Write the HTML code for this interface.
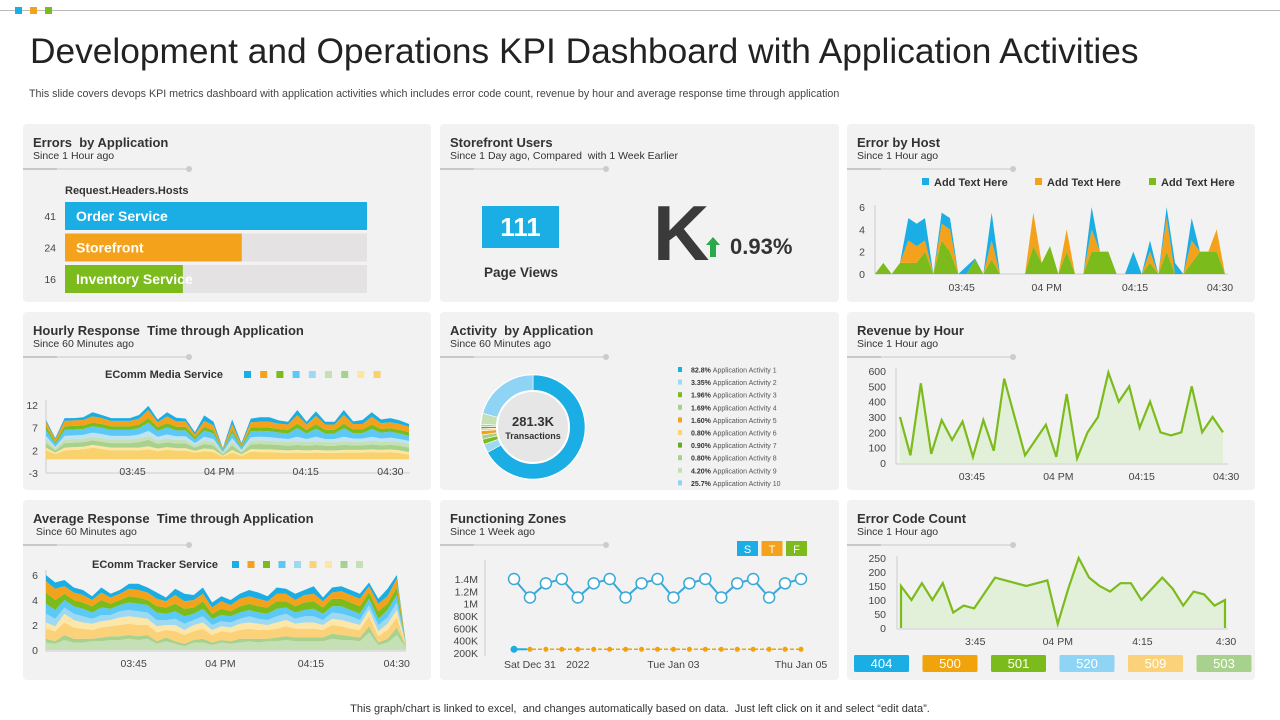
<!DOCTYPE html>
<html><head><meta charset="utf-8">
<style>
*{margin:0;padding:0;box-sizing:border-box}
body{width:1280px;height:720px;background:#fff;font-family:"Liberation Sans",sans-serif;position:relative;overflow:hidden;color:#333}
.abs{position:absolute}
.panel{position:absolute;background:#f2f2f2;border-radius:4px}
.pt{position:absolute;left:10px;top:11px;font-size:13px;font-weight:bold;color:#333;white-space:nowrap}
.ps{position:absolute;left:10px;top:26px;font-size:10.5px;color:#333;white-space:nowrap}
.pl{position:absolute;left:0;top:44px;width:166px;height:2px;background:#ddd}
.pl:before{content:"";position:absolute;left:0;top:0;width:34px;height:2px;background:#c8c8c8}
.pl:after{content:"";position:absolute;right:-3px;top:-2px;width:6px;height:6px;border-radius:3px;background:#ccc}
svg text{font-family:"Liberation Sans",sans-serif}
</style></head><body>
<div class="abs" style="left:0;top:10px;width:1280px;height:1px;background:#bbb"></div>
<div class="abs" style="left:15px;top:7px;width:7px;height:7px;background:#1aaee5"></div>
<div class="abs" style="left:30px;top:7px;width:7px;height:7px;background:#f4a21c"></div>
<div class="abs" style="left:45px;top:7px;width:7px;height:7px;background:#7cbb1c"></div>
<div class="abs" style="left:30px;top:32px;font-size:35.3px;color:#222;white-space:nowrap">Development and Operations KPI Dashboard with Application Activities</div>
<div class="abs" style="left:29px;top:88px;font-size:10.7px;color:#444;white-space:nowrap">This slide covers devops KPI metrics dashboard with application activities which includes error code count, revenue by hour and average response time through application</div>

<div class="panel" style="left:23px;top:124px;width:408px;height:178px"><div class="pt">Errors&nbsp; by Application</div><div class="ps">Since 1 Hour ago</div><div class="pl"></div></div>
<div class="panel" style="left:440px;top:124px;width:399px;height:178px"><div class="pt">Storefront Users</div><div class="ps">Since 1 Day ago, Compared&nbsp; with 1 Week Earlier</div><div class="pl"></div></div>
<div class="panel" style="left:847px;top:124px;width:408px;height:178px"><div class="pt">Error by Host</div><div class="ps">Since 1 Hour ago</div><div class="pl"></div></div>
<div class="panel" style="left:23px;top:312px;width:408px;height:178px"><div class="pt">Hourly Response&nbsp; Time through Application</div><div class="ps">Since 60 Minutes ago</div><div class="pl"></div></div>
<div class="panel" style="left:440px;top:312px;width:399px;height:178px"><div class="pt">Activity&nbsp; by Application</div><div class="ps">Since 60 Minutes ago</div><div class="pl"></div></div>
<div class="panel" style="left:847px;top:312px;width:408px;height:178px"><div class="pt">Revenue by Hour</div><div class="ps">Since 1 Hour ago</div><div class="pl"></div></div>
<div class="panel" style="left:23px;top:500px;width:408px;height:180px"><div class="pt">Average Response&nbsp; Time through Application</div><div class="ps">&nbsp;Since 60 Minutes ago</div><div class="pl"></div></div>
<div class="panel" style="left:440px;top:500px;width:399px;height:180px"><div class="pt">Functioning Zones</div><div class="ps">Since 1 Week ago</div><div class="pl"></div></div>
<div class="panel" style="left:847px;top:500px;width:408px;height:180px"><div class="pt">Error Code Count</div><div class="ps">Since 1 Hour ago</div><div class="pl"></div></div>

<div class="abs" style="left:482px;top:206px;width:77px;height:42px;background:#1aaee5;color:#fff;font-size:26px;font-weight:bold;text-align:center;line-height:42px">111</div>
<div class="abs" style="left:470px;top:265px;width:102px;text-align:center;font-size:13.5px;font-weight:bold;color:#333">Page Views</div>
<div class="abs" style="left:653px;top:188px;font-size:78px;font-weight:bold;color:#3a3a3a;line-height:90px">K</div>
<div class="abs" style="left:730px;top:234px;font-size:22px;font-weight:bold;color:#333">0.93%</div>

<div class="abs" style="left:0;top:703px;width:1280px;text-align:center;font-size:11px;color:#333">This graph/chart is linked to excel,&nbsp; and changes automatically based on data.&nbsp; Just left click on it and select “edit data”.</div>

<svg id="chart" width="1280" height="720" style="position:absolute;left:0;top:0" xmlns="http://www.w3.org/2000/svg"></svg>

<script>
// ---- Errors by application ----
const errCats=["Order Service","Storefront","Inventory Service"];
const errVals=[41,24,16];
const errColors=["#1aaee5","#f4a21c","#7cbb1c"];
// ---- Error by host (stacked) ----
const hostGreen=[0,1,0,1,1,1,2,0,3,2, 0,0,1.3,0,1.3,0,0,0,0,2.5, 1,2.5,0,2,0,0,2,2,2,0, 0,0,0,1,0,2,0,0,1,2, 2,2,0];
const hostOrange=[0,0,0,0,2,1.5,1,0,1.5,2, 0,0,0,0,1.7,0,0,0,0,3, 0,0,0,2,0,0,2,0,0,0, 0,0,0,1,0,3,0,0,2,0, 0,2,0];
const hostBlue=[0,0,0,0,2,2,2,0,1,1, 0,0.7,0.1,0,2.5,0,0,0,0,0, 0,0,0,0,0,0,2,0,0,0, 0,2,0,1,0,1,1,0,2,0, 0,0,0];
const hostYTicks=[0,2,4,6];
const hostXLabels=["03:45","04 PM","04:15","04:30"];
const hostXTickIdx=[10.4,20.6,31.2,41.4];
const hostLegend=["Add Text Here","Add Text Here","Add Text Here"];
// ---- Hourly response (stacked 9) ----
const hr1=[2,1.2,2,2.1,2.2,2.6,2.3,2,2,2, 2,2.2,1.8,2.1,1.9,1.9,1.5,1.8,1.6,0.6, 1.5,0.8,1.7,1.6,1.6,1.5,1.4,1.5,1.4,1.5, 1.4,1.4,1.5,1.5,1.5,1.6,1.5,1.6,1.4,1.0];
const hr2=[0.6,0.3,0.6,0.6,0.6,0.6,0.6,0.6,0.6,0.6, 0.6,0.7,0.6,0.6,0.6,0.6,0.4,0.6,0.6,0.2, 0.6,0.3,0.6,0.6,0.6,0.6,0.6,0.6,0.6,0.6, 0.6,0.6,0.6,0.6,0.6,0.6,0.6,0.6,0.6,0.6];
const hr3=[1,0.5,1,1,1,1,1,1,1,1, 1.2,1.4,1,1.1,1,1,0.7,1,0.9,0.3, 1,0.4,1,1.2,1.1,1.1,1,1.1,1,1.1, 1,1,1.1,1,1,1.1,1,1,1,1];
const hr4=[0.8,0.4,0.8,0.8,0.8,0.8,0.8,0.8,0.8,0.8, 0.8,0.9,0.8,0.8,0.8,0.8,0.5,0.8,0.7,0.3, 0.8,0.3,0.8,0.8,0.8,0.8,0.8,0.8,0.8,0.8, 0.8,0.8,0.8,0.8,0.8,0.8,0.8,0.8,0.8,0.8];
const hr5=[0.8,0.4,0.8,0.8,0.8,0.9,0.9,0.8,0.8,0.8, 0.9,1.1,0.8,0.9,0.8,0.8,0.5,0.8,0.7,0.2, 0.8,0.3,0.8,0.8,0.8,0.7,0.7,1,0.7,1, 0.7,0.7,1,0.7,0.7,0.9,0.7,0.8,0.7,0.7];
const hr6=[1.3,0.6,1.3,1.3,1.3,1.4,1.4,1.3,1.3,1.3, 1.4,1.8,1.3,1.6,1.3,1.3,0.8,1.4,1.2,0.3, 1.2,0.5,1.3,1.3,1.3,1.2,1.2,1.9,1.2,1.8, 1.2,1.2,1.9,1.2,1.2,1.7,1.3,1.3,1.2,1.1];
const hr7=[0.8,0.4,0.8,0.8,0.8,0.8,0.8,0.8,0.8,0.8, 0.8,1.0,0.8,0.9,0.8,0.8,0.5,0.8,0.7,0.2, 0.7,0.3,0.8,0.8,0.8,0.8,0.8,1.0,0.8,1.0, 0.8,0.8,1.0,0.8,0.8,1.0,0.8,0.8,0.8,0.8];
const hr8=[1.0,0.6,1.2,1.2,1.2,1.4,1.3,1.2,1.2,1.2, 1.3,1.8,1.1,1.5,1.2,1.2,0.6,1.3,1.1,0.2, 1.2,0.4,1.2,1.2,1.3,1.2,1.2,1.9,1.2,1.8, 1.2,1.2,1.9,1.2,1.2,1.7,1.3,1.3,1.3,1.2];
const hr9=[0.4,0.3,0.6,0.5,0.6,0.9,0.7,0.6,0.6,0.6, 0.8,0.9,0.6,0.9,0.8,0.6,0.5,1.2,0.8,0.2, 1.0,0.3,0.8,1.0,1.0,0.7,0.6,1.1,0.6,1.0, 0.6,0.6,1.1,0.6,0.9,1.0,0.8,0.9,0.8,0.6];
const hrYTicks=[-3,2,7,12];
const hrXLabels=["03:45","04 PM","04:15","04:30"];
const hrXTickIdx=[9.3,18.6,27.9,37];
// ---- Average response (stacked 9) ----
const av1=[0.6,0.5,0.8,0.6,0.6,0.7,0.7,0.8,0.8,0.9, 0.8,0.9,0.5,0.7,0.5,0.3,0.6,0.6,0.4,0.6, 0.5,0.6,0.7,0.6,0.7,0.7,0.8,0.7,0.7,0.7, 0.7,0.9,0.8,0.8,0.7,1.4,0.4,0.6,1.2,0.2];
const av2=[0.3,0.2,0.4,0.3,0.3,0.2,0.3,0.3,0.3,0.3, 0.3,0.3,0.2,0.3,0.2,0.2,0.2,0.3,0.2,0.2, 0.2,0.3,0.2,0.3,0.2,0.3,0.3,0.3,0.3,0.3, 0.3,0.4,0.4,0.3,0.3,0.5,0.2,0.3,0.6,0.1];
const av3=[0.8,0.8,1.0,0.9,0.8,0.7,0.8,0.8,0.9,0.9, 0.9,0.8,0.7,0.6,0.8,0.7,0.7,0.8,0.6,0.7, 0.7,0.7,0.8,0.7,0.7,0.7,0.8,0.7,0.7,0.7, 0.6,0.7,0.7,0.6,0.6,0.8,0.5,0.7,0.8,0.1];
const av4=[0.5,0.4,0.7,0.6,0.5,0.5,0.5,0.5,0.6,0.6, 0.6,0.5,0.5,0.4,0.5,0.4,0.5,0.5,0.4,0.4, 0.4,0.5,0.5,0.5,0.4,0.5,0.5,0.4,0.5,0.5, 0.4,0.5,0.5,0.5,0.4,0.5,0.4,0.5,0.6,0];
const av5=[0.7,0.6,0.5,0.5,0.5,0.4,0.5,0.4,0.5,0.5, 0.5,0.5,0.5,0.4,0.5,0.5,0.4,0.5,0.4,0.4, 0.4,0.4,0.5,0.4,0.4,0.5,0.5,0.4,0.5,0.5, 0.4,0.5,0.5,0.5,0.4,0.4,0.5,0.5,0.6,0];
const av6=[0.8,0.7,0.6,0.6,0.6,0.5,0.6,0.5,0.5,0.6, 0.6,0.6,0.6,0.5,0.6,0.6,0.5,0.6,0.5,0.5, 0.5,0.5,0.5,0.5,0.5,0.6,0.5,0.5,0.5,0.6, 0.5,0.5,0.6,0.5,0.5,0.5,0.5,0.6,0.6,0];
const av7=[0.9,0.8,0.5,0.5,0.5,0.5,0.6,0.4,0.4,0.5, 0.5,0.4,0.5,0.5,0.6,0.6,0.5,0.6,0.4,0.5, 0.4,0.5,0.5,0.5,0.5,0.6,0.5,0.5,0.6,0.6, 0.5,0.6,0.6,0.6,0.6,0.5,0.6,0.5,0.6,0.1];
const av8=[0.9,0.9,0.6,0.6,0.6,0.5,0.6,0.5,0.5,0.6, 0.6,0.6,0.6,0.5,0.7,0.6,0.6,0.6,0.5,0.6, 0.5,0.6,0.6,0.6,0.5,0.6,0.6,0.5,0.6,0.6, 0.5,0.5,0.6,0.6,0.6,0.5,0.6,0.6,0.7,0];
const av9=[0.5,0.5,0.5,0.4,0.4,0.3,0.4,0.3,0.3,0.4, 0.5,0.4,0.5,0.3,0.5,0.6,0.4,0.5,0.4,0.4, 0.4,0.4,0.5,0.5,0.4,0.5,0.4,0.5,0.4,0.6, 0.3,0.4,0.4,0.4,0.4,0.3,0.4,0.6,0.3,0];
const avYTicks=[0,2,4,6];
const avXLabels=["03:45","04 PM","04:15","04:30"];
const avXTickIdx=[9.5,18.9,28.7,38];
// ---- Activity donut ----
const actLabels=["Application  Activity 1","Application  Activity 2","Application  Activity 3","Application  Activity 4","Application  Activity 5","Application  Activity 6","Application  Activity 7","Application  Activity 8","Application  Activity 9","Application  Activity 10"];
const actPct=[82.8,3.35,1.96,1.69,1.60,0.80,0.90,0.80,4.20,25.7];
const actPctLabels=["82.8%","3.35%","1.96%","1.69%","1.60%","0.80%","0.90%","0.80%","4.20%","25.7%"];
const actColors=["#1aaee5","#9dd9f3","#7cbb1c","#a9d18e","#f4a21c","#fbd27a","#6aa81a","#a9d18e","#c5e0b4","#8fd3f5"];
// ---- Revenue by hour ----
const revVals=[300,50,520,60,280,150,270,40,280,80,550,300,50,150,250,40,450,30,200,300,590,400,500,230,400,200,180,200,500,200,300,200];
const revYTicks=[0,100,200,300,400,500,600];
const revXLabels=["03:45","04 PM","04:15","04:30"];
const revXTickIdx=[6.9,15.2,23.2,31.3];
// ---- Functioning zones ----
const fzMain=[1400,1100,1330,1400,1100,1330,1400,1100,1330,1400,1100,1330,1400,1100,1330,1400,1100,1330,1400];
const fzBase=[260,260,260,260,260,260,260,260,260,260,260,260,260,260,260,260,260,260,260];
const fzYTicks=[200,400,600,800,1000,1200,1400];
const fzYLabels=["200K","400K","600K","800K","1M","1.2M","1.4M"];
const fzXLabels=["Sat Dec 31","2022","Tue Jan 03","Thu Jan 05"];
const fzXTickIdx=[1,4,10,18];
// ---- Error code count ----
const ecVals=[150,100,160,100,160,55,80,70,125,180,170,160,150,160,170,15,140,250,180,150,130,160,160,100,140,180,140,80,130,120,80,100];
const ecYTicks=[0,50,100,150,200,250];
const ecXLabels=["3:45","04 PM","4:15","4:30"];
const ecXTickIdx=[7.1,15,23.1,31.1];
const ecCodes=["404","500","501","520","509","503"];
const ecCodeColors=["#1aaee5","#f0a30a","#7cbb1c","#8fd3f5","#fbd27a","#a9d18e"];

const NS="http://www.w3.org/2000/svg";
const svg=document.getElementById('chart');
function mk(tag,attrs,parent){const e=document.createElementNS(NS,tag);for(const k in attrs)e.setAttribute(k,attrs[k]);(parent||svg).appendChild(e);return e;}
function lin(d0,d1,r0,r1){return v=>r0+(v-d0)/(d1-d0)*(r1-r0);}
function txt(x,y,s,opts,name){const t=mk('text',Object.assign({x:x,y:y,'font-size':10.5,fill:'#444'},opts||{}));t.textContent=s;


return t;}

// Errors bars
(function(){
 const x=lin(0,41,65,367);
 txt(65,194,"Request.Headers.Hosts",{'font-size':11,'font-weight':'bold',fill:'#333','font-family':'Liberation Mono'},'bar-axis-title');
 errVals.forEach((v,i)=>{
  const y=202+i*31.5;
  const tr=mk('rect',{x:65,y:y,width:x(41)-65,height:28,fill:'#e4e2e2'});
  
  
  const r=mk('rect',{x:65,y:y,width:x(v)-65,height:28,fill:errColors[i]});
  
  
  txt(56,y+18,String(v),{'text-anchor':'end','font-size':10.5},'bar-value');
  txt(76,y+19,errCats[i],{'font-size':14,'font-weight':'bold',fill:'#fff'},'bar-label');
 });
})();

function stackArea(layers,colors,xs,ys,name){
 const n=layers[0].length;let cum=new Array(n).fill(0);
 layers.forEach((L,li)=>{
  const lo=cum.slice();const hi=cum.map((c,i)=>c+L[i]);
  let p=[];for(let i=0;i<n;i++)p.push(xs(i)+','+ys(hi[i]));
  for(let i=n-1;i>=0;i--)p.push(xs(i)+','+ys(lo[i]));
  const pg=mk('polygon',{points:p.join(' '),fill:colors[li]});
  
  
  cum=hi;
 });
}
function axes(x0,x1,y0,y1){mk('line',{x1:x0,y1:y0,x2:x0,y2:y1,stroke:'#ccc'});mk('line',{x1:x0,y1:y1,x2:x1,y2:y1,stroke:'#ccc'});}

// Error by host
(function(){
 const xs=lin(0,42,875,1225),ys=lin(0,6,274,207);
 axes(875,1228,205,274);
 stackArea([hostGreen,hostOrange,hostBlue],["#7cbb1c","#f4a21c","#1aaee5"],xs,ys,'host-area');
 hostYTicks.forEach(t=>txt(865,ys(t)+4,String(t),{'text-anchor':'end'},'host-y-tick'));
 hostXLabels.forEach((l,i)=>txt(xs(hostXTickIdx[i]),291,l,{'text-anchor':'middle'},'host-x-tick'));
 const lc=["#1aaee5","#f4a21c","#7cbb1c"],lx=[922,1035,1149];
 hostLegend.forEach((l,i)=>{const r=mk('rect',{x:lx[i],y:178,width:7,height:7,fill:lc[i]});
  
  
  txt(lx[i]+12,186,l,{'font-size':11,'font-weight':'bold',fill:'#333'},'host-legend-entry');});
})();

// Hourly response
(function(){
 const xs=lin(0,39,46,409),ys=lin(-3,12,473,405);
 axes(46,410,400,473);
 stackArea([hr1,hr2,hr3,hr4,hr5,hr6,hr7,hr8,hr9],["#f9d26e","#fbe6a2","#a9d18e","#c5e0b4","#bfe3f5","#5bc8f5","#7cbb1c","#f4a21c","#1aaee5"],xs,ys,'hourly-area');
 hrYTicks.forEach(t=>txt(38,ys(t)+4,String(t),{'text-anchor':'end'},'hourly-y-tick'));
 hrXLabels.forEach((l,i)=>txt(xs(hrXTickIdx[i]),475,l,{'text-anchor':'middle'},'hourly-x-tick'));
 txt(105,378,"EComm Media Service",{'font-size':11,'font-weight':'bold',fill:'#333'},'hourly-legend-title');
 ["#1aaee5","#f4a21c","#7cbb1c","#5bc8f5","#9dd9f3","#c5e0b4","#a9d18e","#fbe6a2","#f9d26e"].forEach((c,i)=>{const r=mk('rect',{x:244+i*16.2,y:371,width:7,height:7,fill:c});
  
  });
})();

// Average response
(function(){
 const xs=lin(0,39,46,406),ys=lin(0,6,650,575);
 axes(46,406,570,651);
 stackArea([av1,av2,av3,av4,av5,av6,av7,av8,av9],["#c5e0b4","#a9d18e","#fbd27a","#fce7a8","#9dd9f3","#5bc8f5","#7cbb1c","#f4a21c","#1aaee5"],xs,ys,'average-area');
 avYTicks.forEach(t=>txt(38,ys(t)+4,String(t),{'text-anchor':'end'},'average-y-tick'));
 avXLabels.forEach((l,i)=>txt(xs(avXTickIdx[i]),667,l,{'text-anchor':'middle'},'average-x-tick'));
 txt(92,568,"EComm Tracker Service",{'font-size':11,'font-weight':'bold',fill:'#333'},'average-legend-title');
 ["#1aaee5","#f4a21c","#7cbb1c","#5bc8f5","#9dd9f3","#fbd27a","#fce7a8","#a9d18e","#c5e0b4"].forEach((c,i)=>{const r=mk('rect',{x:232+i*15.5,y:561,width:7,height:7,fill:c});
  
  });
})();

// Donut
(function(){
 const cx=533,cy=427,R=52,r=36;const tot=actPct.reduce((a,b)=>a+b,0);let a0=0;
 mk('circle',{cx:cx,cy:cy,r:R+1,fill:'#fff'});
 actPct.forEach((v,i)=>{const a1=a0+v/tot*Math.PI*2;
  const p=(a,rr)=>[cx+rr*Math.sin(a),cy-rr*Math.cos(a)];
  const [x1,y1]=p(a0,R),[x2,y2]=p(a1,R),[x3,y3]=p(a1,r),[x4,y4]=p(a0,r);const lg=(a1-a0)>Math.PI?1:0;
  const s=mk('path',{d:`M${x1},${y1}A${R},${R} 0 ${lg} 1 ${x2},${y2}L${x3},${y3}A${r},${r} 0 ${lg} 0 ${x4},${y4}Z`,fill:actColors[i],stroke:'#fff','stroke-width':0.6});
  
  
  a0=a1;});
 mk('circle',{cx:cx,cy:cy,r:r,fill:'#e6e6e6',stroke:'#fff','stroke-width':2});
 txt(cx,cy-1,"281.3K",{'text-anchor':'middle','font-size':13,'font-weight':'bold',fill:'#333'},'donut-total');
 txt(cx,cy+12,"Transactions",{'text-anchor':'middle','font-size':9,'font-weight':'bold',fill:'#333'},'donut-total-label');
 actLabels.forEach((l,i)=>{const y=370+i*12.6;
  const q=mk('rect',{x:678,y:y-3,width:4,height:5,fill:actColors[i]});
  
  
  const t=txt(691,y+2.5,'',{'font-size':7,fill:'#555'},'activity-legend-entry');
  const b=document.createElementNS(NS,'tspan');b.setAttribute('font-weight','bold');b.setAttribute('fill','#333');b.textContent=actPctLabels[i]+' ';t.appendChild(b);
  const c=document.createElementNS(NS,'tspan');c.textContent=l;t.appendChild(c);});
})();

// Revenue
(function(){
 const xs=lin(0,31,900,1223),ys=lin(0,600,463,371);
 axes(896,1228,368,464);
 let p=revVals.map((v,i)=>xs(i)+','+ys(v));
 const a=mk('polygon',{points:[xs(0)+','+ys(0)].concat(p,[xs(revVals.length-1)+','+ys(0)]).join(' '),fill:'#e2efd9'});
 
 
 const l=mk('polyline',{points:p.join(' '),fill:'none',stroke:'#7cbb1c','stroke-width':2.2});
 
 
 revYTicks.forEach(t=>txt(886,ys(t)+4,String(t),{'text-anchor':'end'},'revenue-y-tick'));
 revXLabels.forEach((s,i)=>txt(xs(revXTickIdx[i]),480,s,{'text-anchor':'middle'},'revenue-x-tick'));
})();

// Functioning zones
(function(){
 const xs=lin(0,18,514,801),ys=lin(200,1400,653,579);
 mk('line',{x1:485,y1:560,x2:485,y2:656,stroke:'#ccc'});
 fzYLabels.forEach((s,i)=>txt(478,ys(fzYTicks[i])+4,s,{'text-anchor':'end'},'zones-y-tick'));
 const bp=fzBase.map((v,i)=>xs(i)+','+ys(v));
 const bl=mk('polyline',{points:bp.join(' '),fill:'none',stroke:'#f0a30a','stroke-width':1.5,'stroke-dasharray':'4 2'});
 
 
 mk('line',{x1:xs(0),y1:ys(fzBase[0]),x2:xs(0.8),y2:ys(fzBase[0]),stroke:'#1aaee5','stroke-width':2});
 fzBase.forEach((v,i)=>{const c=mk('circle',{cx:xs(i),cy:ys(v),r:i?2.5:3.5,fill:i?'#f0a30a':'#1aaee5'});
  
  });
 const mp=fzMain.map((v,i)=>xs(i)+','+ys(v));
 const ml=mk('polyline',{points:mp.join(' '),fill:'none',stroke:'#3aa8d8','stroke-width':2});
 
 
 fzMain.forEach((v,i)=>{const c=mk('circle',{cx:xs(i),cy:ys(v),r:5.5,fill:'#fff',stroke:'#3aa8d8','stroke-width':1.5});
  
  });
 fzXLabels.forEach((s,i)=>txt(xs(fzXTickIdx[i]),668,s,{'text-anchor':'middle'},'zones-x-tick'));
 [["S","#1aaee5"],["T","#f4a21c"],["F","#7cbb1c"]].forEach((b,i)=>{const r=mk('rect',{x:737+i*24.5,y:541,width:21,height:15,fill:b[1]});
  
  
  txt(747.5+i*24.5,553,b[0],{'text-anchor':'middle','font-size':11,fill:'#fff'},'zone-badge-label');});
})();

// Error code count
(function(){
 const xs=lin(0,31,901,1225),ys=lin(0,250,628,558);
 axes(897,1228,556,629);
 let p=ecVals.map((v,i)=>xs(i)+','+ys(v));
 const all=[xs(0)+','+ys(0)].concat(p,[xs(ecVals.length-1)+','+ys(0)]);
 const a=mk('polygon',{points:all.join(' '),fill:'#e2efd9'});
 
 
 const l=mk('polyline',{points:all.join(' '),fill:'none',stroke:'#7cbb1c','stroke-width':2.2});
 
 
 ecYTicks.forEach(t=>txt(886,ys(t)+4,String(t),{'text-anchor':'end'},'error-code-y-tick'));
 ecXLabels.forEach((s,i)=>txt(xs(ecXTickIdx[i]),645,s,{'text-anchor':'middle'},'error-code-x-tick'));
 ecCodes.forEach((c,i)=>{const x=854+i*68.5;const r=mk('rect',{x:x,y:655,width:55,height:17,rx:1.5,fill:ecCodeColors[i]});
  
  
  txt(x+27.5,668,c,{'text-anchor':'middle','font-size':13,fill:'#fff'},'error-code-label');});
})();

(function(){const g=mk('path',{d:'M713,237 L720,245 L716,245 L716,257 L710,257 L710,245 L706,245 Z',fill:'#2aa84a'});
 
 })();
</script>
</body></html>
